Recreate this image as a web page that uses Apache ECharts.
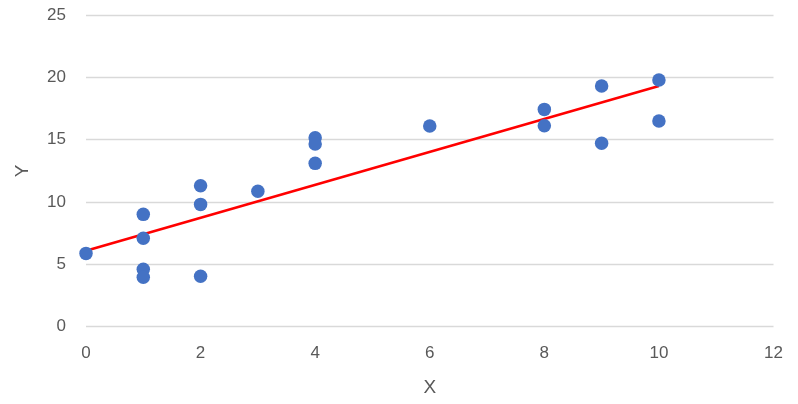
<!DOCTYPE html>
<html>
<head>
<meta charset="utf-8">
<script src="https://cdn.jsdelivr.net/npm/echarts@6/dist/echarts.min.js"></script>
<style>html,body{margin:0;padding:0;background:#fff}#c{width:798px;height:404px}</style>
</head>
<body>
<div id="c"></div>
<script>
var xValues = [0, 1, 1, 1, 1, 2, 2, 2, 3, 4, 4, 4, 6, 8, 8, 9, 9, 10, 10];
var yValues = [5.88, 9.01, 7.09, 4.6, 3.96, 11.31, 9.81, 4.04, 10.86, 15.16, 14.65, 13.1, 16.09, 17.43, 16.12, 19.3, 14.71, 19.78, 16.5];
var trendX = [0, 10];
var trendY = [6.1, 19.3];

var points = xValues.map(function (x, i) { return [x, yValues[i]]; });
var trend = trendX.map(function (x, i) { return [x, trendY[i]]; });

var chart = echarts.init(document.getElementById('c'), null, {renderer: 'canvas'});
var font = '"Liberation Sans", "Open Sans", sans-serif';
chart.setOption({
  animation: false,
  grid: {left: 86, right: 24.5, top: 15, bottom: 77.3, containLabel: false},
  xAxis: {
    type: 'value', min: 0, max: 12, interval: 2,
    name: 'X', nameLocation: 'middle', nameGap: 52,
    nameTextStyle: {color: '#595959', fontSize: 19, fontFamily: font},
    axisLine: {show: false}, axisTick: {show: false}, splitLine: {show: false},
    axisLabel: {color: '#595959', fontSize: 17, fontFamily: font, margin: 18}
  },
  yAxis: {
    type: 'value', min: 0, max: 25, interval: 5,
    name: 'Y', nameLocation: 'middle', nameGap: 54,
    nameTextStyle: {color: '#595959', fontSize: 19, fontFamily: font},
    axisLine: {show: false}, axisTick: {show: false},
    splitLine: {lineStyle: {color: '#d9d9d9', width: 1.3}},
    axisLabel: {color: '#595959', fontSize: 17, fontFamily: font, margin: 20}
  },
  series: [
    {
      type: 'line', data: trend, symbol: 'none',
      lineStyle: {color: '#ff0000', width: 2.6}, z: 2
    },
    {
      type: 'scatter', data: points, symbolSize: 13.5,
      itemStyle: {color: '#4472c4', opacity: 1}, z: 3
    }
  ]
});
</script>
</body>
</html>
